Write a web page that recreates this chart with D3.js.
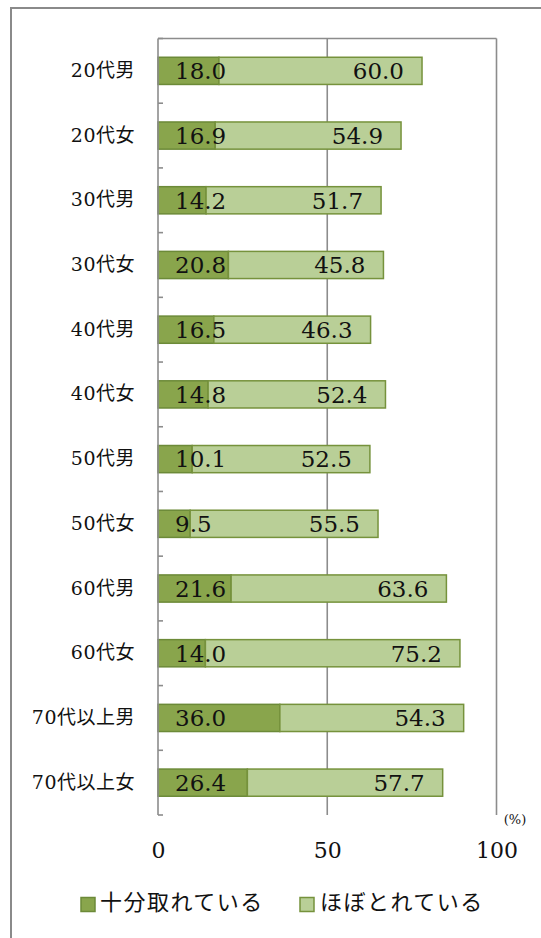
<!DOCTYPE html>
<html>
<head>
<meta charset="utf-8">
<script src="https://cdn.jsdelivr.net/npm/d3@7"></script>
<style>
  html, body { margin: 0; padding: 0; background: #fff; }
  svg { display: block; }
</style>
</head>
<body>
<svg id="chart" width="541" height="938"></svg>
<script>
// Sleep sufficiency by age group and sex (%)
const categories = ["20代男", "20代女", "30代男", "30代女", "40代男", "40代女",
                    "50代男", "50代女", "60代男", "60代女", "70代以上男", "70代以上女"];
const seriesNames = ["十分取れている", "ほぼとれている"];
const enough = [18.0, 16.9, 14.2, 20.8, 16.5, 14.8, 10.1, 9.5, 21.6, 14.0, 36.0, 26.4];
const mostly = [60.0, 54.9, 51.7, 45.8, 46.3, 52.4, 52.5, 55.5, 63.6, 75.2, 54.3, 57.7];
const xTicks = [0, 50, 100];
const unitLabel = "(%)";

const fills = ["#89a54c", "#b9cf97"];
const strokes = ["#6c8a38", "#76923c"];
const gridColor = "#8c8c8c";
const serif = "'DejaVu Serif', 'Noto Sans CJK JP', serif";
const labelFont = "'DejaVu Serif', 'Noto Sans CJK JP', serif";
const jpFont = "'Noto Sans CJK JP', sans-serif";

const svg = d3.select("#chart");

// outer frame
svg.append("path")
  .attr("d", "M11,938 L11,8 L541,8")
  .attr("fill", "none")
  .attr("stroke", "#8a8a8a")
  .attr("stroke-width", 2);

const plot = { left: 158, right: 496.5, top: 38.5, bottom: 815 };

const x = d3.scaleLinear().domain([0, 100]).range([plot.left, plot.right]);
const y = d3.scaleBand().domain(categories).range([plot.top, plot.bottom]).paddingInner(0).paddingOuter(0);
const barH = y.bandwidth() * 0.42;

const rows = categories.map((c, i) => ({ cat: c, vals: [enough[i], mostly[i]] }));
const stack = d3.stack().keys([0, 1]).value((d, k) => d.vals[k]);
const layers = stack(rows);

// vertical gridlines at 50 and 100
svg.append("g").selectAll("line")
  .data(xTicks.filter(t => t > 0))
  .join("line")
  .attr("x1", d => x(d)).attr("x2", d => x(d))
  .attr("y1", plot.top).attr("y2", plot.bottom)
  .attr("stroke", gridColor).attr("stroke-width", 1.6);

// top border of plot area
svg.append("line")
  .attr("x1", plot.left).attr("x2", plot.right)
  .attr("y1", plot.top).attr("y2", plot.top)
  .attr("stroke", gridColor).attr("stroke-width", 1.6);

// bars
layers.forEach((layer, k) => {
  svg.append("g").selectAll("rect")
    .data(layer)
    .join("rect")
    .attr("x", d => x(d[0]))
    .attr("width", d => x(d[1]) - x(d[0]))
    .attr("y", d => y(d.data.cat) + (y.bandwidth() - barH) / 2)
    .attr("height", barH)
    .attr("fill", fills[k])
    .attr("stroke", strokes[k])
    .attr("stroke-width", 1.5);
});

// value labels: first segment at inside base, second at inside end
svg.append("g").selectAll("text")
  .data(layers[0])
  .join("text")
  .attr("x", d => x(d[0]) + 17)
  .attr("y", d => y(d.data.cat) + y.bandwidth() / 2)
  .attr("dy", "0.36em")
  .attr("font-family", serif)
  .attr("font-size", 23)
  .attr("fill", "#111")
  .text(d => (d[1] - d[0]).toFixed(1));

svg.append("g").selectAll("text")
  .data(layers[1])
  .join("text")
  .attr("x", d => x(d[1]) - 18)
  .attr("y", d => y(d.data.cat) + y.bandwidth() / 2)
  .attr("dy", "0.36em")
  .attr("text-anchor", "end")
  .attr("font-family", serif)
  .attr("font-size", 23)
  .attr("fill", "#111")
  .text(d => (d[1] - d[0]).toFixed(1));

// left axis line with inward boundary ticks
svg.append("line")
  .attr("x1", plot.left).attr("x2", plot.left)
  .attr("y1", plot.top).attr("y2", plot.bottom)
  .attr("stroke", gridColor).attr("stroke-width", 1.6);

const bounds = categories.map(c => y(c)).concat([plot.bottom]);
svg.append("g").selectAll("line")
  .data(bounds)
  .join("line")
  .attr("x1", plot.left).attr("x2", plot.left + 5)
  .attr("y1", d => d).attr("y2", d => d)
  .attr("stroke", gridColor).attr("stroke-width", 1.6);

// category labels
const yAxis = svg.append("g")
  .attr("transform", `translate(${plot.left - 23},0)`)
  .call(d3.axisLeft(y).tickSize(0).tickPadding(0));
yAxis.select(".domain").remove();
yAxis.selectAll("text")
  .attr("font-family", labelFont)
  .attr("font-size", 19)
  .attr("letter-spacing", 0.5)
  .attr("fill", "#111");

// x tick labels
const xAxis = svg.append("g")
  .attr("transform", `translate(0,${plot.bottom})`)
  .call(d3.axisBottom(x).tickValues(xTicks).tickSize(0).tickPadding(27));
xAxis.select(".domain").remove();
xAxis.selectAll("text")
  .attr("font-family", serif)
  .attr("font-size", 22)
  .attr("fill", "#111");

// unit label
svg.append("text")
  .attr("x", 515).attr("y", 819)
  .attr("dy", "0.35em")
  .attr("text-anchor", "middle")
  .attr("font-family", serif)
  .attr("font-size", 13)
  .attr("fill", "#111")
  .text(unitLabel);

// legend
const legendItems = [
  { name: seriesNames[0], sx: 81, tx: 100 },
  { name: seriesNames[1], sx: 300, tx: 320 }
];
const legend = svg.append("g");
legend.selectAll("rect")
  .data(legendItems)
  .join("rect")
  .attr("x", d => d.sx).attr("y", 897.5)
  .attr("width", 14).attr("height", 14)
  .attr("fill", (d, i) => fills[i])
  .attr("stroke", (d, i) => strokes[i])
  .attr("stroke-width", 1.5);
legend.selectAll("text")
  .data(legendItems)
  .join("text")
  .attr("x", d => d.tx).attr("y", 902)
  .attr("dy", "0.36em")
  .attr("font-family", jpFont)
  .attr("font-size", 22)
  .attr("letter-spacing", 1.5)
  .attr("fill", "#111")
  .text(d => d.name);
</script>
</body>
</html>
